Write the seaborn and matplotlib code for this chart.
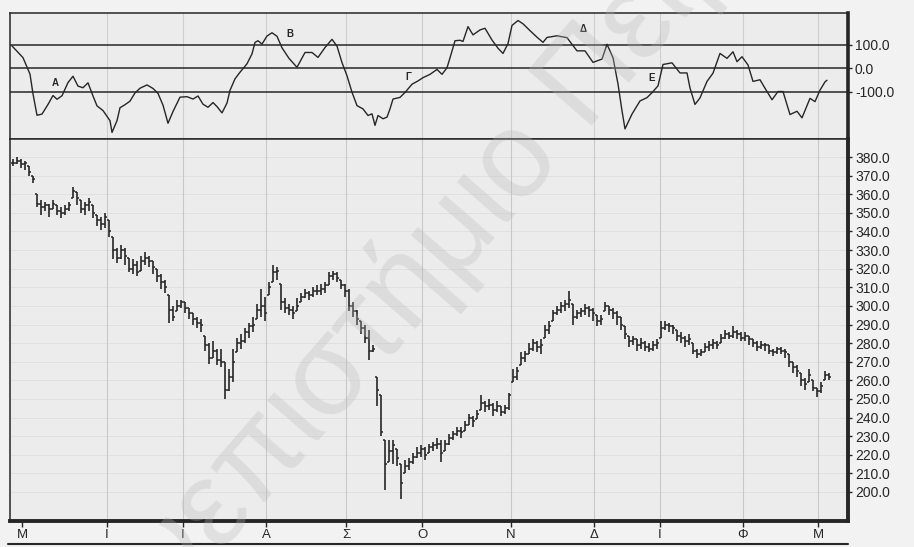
import numpy as np
import pandas as pd
import seaborn as sns
import matplotlib.pyplot as plt
from matplotlib.lines import Line2D

sns.set_style("white")
plt.rcParams['font.family'] = ['Liberation Sans', 'DejaVu Sans']

# month ticks (trading-day index) and Greek month initials
month_days = [2.25, 23.5, 42.5, 63.25, 83.25, 102.25, 124.5, 145.25, 161.75, 182.5, 201.25]
month_labels = ['Μ', 'Ι', 'Ι', 'Α', 'Σ', 'Ο', 'Ν', 'Δ', 'Ι', 'Φ', 'Μ']

# daily bars
close = [377, 378, 376, 377, 372, 368, 355, 353, 354, 352,
         355, 351, 350, 352, 354, 362, 358, 352, 354, 356,
         350, 346, 344, 348, 340, 330, 326, 330, 327, 320,
         322, 318, 324, 326, 324, 321, 316, 313, 310, 298,
         294, 300, 302, 299, 296, 293, 291, 290, 279, 272,
         276, 271, 270, 255, 262, 270, 280, 281, 286, 289,
         290, 298, 300, 296, 310, 318, 319, 302, 299, 298,
         296, 300, 305, 307, 306, 308, 308, 309, 311, 316,
         317, 315, 311, 308, 300, 297, 293, 288, 283, 276,
         277, 255, 232, 215, 222, 225, 218, 205, 214, 216,
         219, 221, 223, 220, 224, 225, 226, 221, 226, 229,
         231, 233, 232, 236, 240, 238, 242, 248, 246, 247,
         244, 246, 243, 245, 252, 262, 265, 272, 274, 277,
         280, 278, 279, 287, 289, 296, 298, 300, 301, 303,
         294, 296, 297, 299, 298, 296, 292, 293, 300, 298,
         296, 294, 290, 285, 281, 282, 279, 280, 278, 277,
         279, 280, 288, 290, 289, 288, 284, 283, 281, 282,
         276, 274, 275, 278, 279, 280, 279, 283, 285, 284,
         286, 285, 283, 284, 282, 280, 278, 279, 279, 276,
         275, 277, 276, 275, 270, 267, 265, 260, 258, 263,
         256, 254, 257, 263, 262]

high = [379, 380, 379, 378, 375, 370, 360, 357, 356, 355,
        357, 354, 353, 354, 356, 364, 361, 357, 356, 358,
        354, 349, 348, 350, 346, 337, 331, 333, 331, 326,
        325, 324, 327, 329, 327, 324, 320, 317, 314, 306,
        300, 303, 303, 302, 299, 296, 294, 293, 284, 280,
        281, 277, 277, 270, 266, 277, 283, 285, 288, 291,
        294, 301, 309, 305, 313, 322, 321, 312, 304, 301,
        300, 304, 307, 309, 308, 310, 311, 312, 313, 318,
        319, 318, 314, 312, 309, 302, 298, 292, 290, 287,
        279, 262, 252, 228, 228, 228, 223, 215, 217, 218,
        221, 224, 225, 224, 226, 227, 229, 228, 228, 231,
        233, 235, 235, 238, 242, 241, 244, 252, 249, 250,
        248, 249, 246, 247, 253, 266, 267, 275, 276, 280,
        282, 281, 282, 290, 292, 298, 300, 302, 303, 308,
        301, 298, 299, 301, 300, 299, 295, 295, 302, 300,
        299, 297, 294, 289, 284, 284, 282, 283, 281, 280,
        281, 282, 292, 292, 291, 290, 287, 286, 284, 285,
        280, 277, 277, 280, 281, 282, 281, 285, 287, 286,
        289, 287, 286, 286, 284, 282, 281, 281, 280, 279,
        277, 278, 278, 277, 274, 270, 268, 264, 261, 266,
        260, 256, 259, 265, 264]

low = [375, 376, 374, 373, 370, 366, 353, 349, 351, 348,
       352, 349, 347, 349, 351, 358, 354, 350, 349, 351,
       347, 343, 341, 342, 337, 325, 323, 325, 322, 318,
       317, 316, 319, 322, 321, 317, 313, 309, 307, 291,
       292, 297, 299, 296, 293, 290, 288, 286, 276, 269,
       272, 268, 267, 250, 254, 259, 275, 277, 280, 283,
       286, 293, 294, 292, 306, 313, 314, 298, 296, 295,
       293, 297, 302, 304, 303, 305, 306, 306, 307, 311,
       314, 313, 309, 305, 297, 294, 290, 285, 280, 271,
       275, 246, 230, 201, 216, 215, 214, 196, 210, 212,
       215, 218, 219, 217, 221, 222, 223, 216, 222, 225,
       228, 230, 229, 233, 236, 235, 239, 244, 243, 244,
       241, 243, 241, 242, 244, 259, 260, 268, 270, 274,
       276, 275, 274, 283, 285, 292, 295, 296, 297, 299,
       290, 293, 294, 295, 294, 292, 289, 290, 297, 295,
       293, 290, 287, 282, 278, 279, 276, 277, 276, 275,
       276, 277, 283, 287, 286, 285, 281, 280, 278, 279,
       274, 272, 273, 275, 276, 277, 277, 280, 282, 282,
       283, 282, 281, 281, 279, 278, 276, 277, 276, 274,
       273, 274, 274, 272, 267, 264, 262, 257, 255, 259,
       254, 251, 253, 260, 260]

# CCI oscillator
cci_day = [-0.25, 2.5, 4.25, 5, 6, 7.25, 8.75, 10, 11, 12.25,
           13.75, 15, 16.25, 17.5, 18.75, 20, 21, 22.5, 24.25, 24.75,
           26, 26.75, 28, 29.25, 30.5, 31.75, 33.5, 35, 36.25, 37.5,
           38.75, 40, 41.75, 43.5, 45, 46.25, 47.5, 48.75, 50, 51,
           52.25, 53.5, 54.25, 55.5, 56.75, 58.5, 59.75, 60.5, 61.25, 62.25,
           63.5, 64.75, 66, 67.25, 69, 71, 73, 74.75, 76.25, 78,
           79.75, 81, 82.25, 83.5, 84.75, 86, 87.5, 88.75, 89.75, 90.5,
           91.25, 92.5, 93.5, 94.25, 95, 96.75, 98, 99.75, 101.25, 102.5,
           104.25, 106, 107.25, 108.5, 109.25, 110.5, 111.75, 112.5, 113.75, 115,
           116.75, 118, 119.75, 121.25, 122.5, 123.75, 124.75, 126.25, 127.5, 129.25,
           131, 132.5, 133.5, 136, 138.5, 139.75, 141, 143, 145, 147.25,
           148.5, 150, 151.25, 152.25, 153, 154.75, 156.75, 158.5, 159.75, 161.25,
           162.5, 164.75, 166.75, 168.5, 169.25, 170.5, 171.75, 173.5, 175, 176.75,
           178.5, 180, 181, 182.25, 183.75, 185, 186.75, 188, 189.75, 191.25,
           192.5, 194.25, 196, 197.25, 199.25, 200.5, 201.75, 203, 203.5]

cci = [96, 46, -24, -108, -199, -194, -153, -115, -131, -116,
       -60, -33, -75, -82, -61, -117, -159, -179, -222, -272,
       -222, -167, -154, -139, -104, -84, -70, -85, -106, -156,
       -233, -183, -122, -120, -130, -117, -152, -165, -145, -162,
       -189, -147, -93, -44, -16, 20, 62, 111, 118, 104,
       138, 152, 137, 88, 43, 5, 68, 68, 47, 89,
       124, 95, 25, -31, -101, -158, -172, -200, -193, -242,
       -200, -214, -207, -172, -130, -123, -102, -67, -53, -39,
       -25, -4, -25, 3, 45, 118, 120, 115, 178, 143,
       164, 171, 121, 86, 64, 106, 183, 204, 190, 161,
       133, 111, 132, 139, 131, 103, 75, 75, 26, 40,
       103, 46, -66, -180, -257, -194, -138, -124, -103, -74,
       17, 24, -19, -19, -83, -153, -125, -55, -20, 64,
       43, 71, 29, 50, 15, -55, -48, -84, -133, -98,
       -98, -196, -182, -210, -127, -141, -92, -57, -50]

cci_levels = [100, 0, -100]

marks = ['Α', 'Β', 'Γ', 'Δ', 'Ε']
mark_day = [10.5, 69.25, 98.75, 142.5, 159.75]
mark_cci = [-60, 146, -35, 168, -40]

price_ticks = list(range(200, 381, 10))

ink = '#262626'
panel_bg = '#ececec'

bars = pd.DataFrame({'high': high, 'low': low, 'close': close})
bars['day'] = np.arange(len(bars))
bars['open'] = bars['close'].shift(1).fillna(bars['close'])
bars['open'] = bars['open'].clip(bars['low'], bars['high'])

osc = pd.DataFrame({'day': cci_day, 'cci': cci})

fig = plt.figure(figsize=(9.14, 5.47), dpi=100)
fig.patch.set_facecolor('#f2f2f2')

W, H = 914, 547
ax_top = fig.add_axes([10 / W, 1 - 139 / H, 838 / W, 126 / H])
ax = fig.add_axes([10 / W, 1 - 521 / H, 838 / W, 382 / H])

xlim = (-0.75, 208.75)

# --- upper panel: CCI ---
ax_top.set_facecolor(panel_bg)
for d in month_days[1:]:
    ax_top.axvline(d, color='#cfcfcf', lw=0.8, zorder=0)
for lvl in cci_levels:
    ax_top.axhline(lvl, color=ink, lw=1.1, zorder=1)
sns.lineplot(data=osc, x='day', y='cci', ax=ax_top, color=ink, lw=1.0,
             estimator=None, sort=True, zorder=3)
for t, d, v in zip(marks, mark_day, mark_cci):
    ax_top.text(d, v, t, fontsize=7, fontweight='bold', color=ink,
                ha='center', va='center')
ax_top.set_xlim(*xlim)
ax_top.set_ylim(-300, 236)
ax_top.set_xticks([])
ax_top.yaxis.tick_right()
ax_top.set_yticks(cci_levels)
ax_top.set_yticklabels([f'{v:.1f}' for v in cci_levels])
ax_top.tick_params(axis='y', right=True, length=3, width=1, pad=2,
                   labelsize=10, colors=ink)
ax_top.set_xlabel('')
ax_top.set_ylabel('')
for side in ['top', 'left', 'bottom']:
    ax_top.spines[side].set_linewidth(1.1)
    ax_top.spines[side].set_color(ink)
ax_top.spines['right'].set_linewidth(2.6)
ax_top.spines['right'].set_color(ink)

# --- lower panel: bar chart ---
ax.set_facecolor(panel_bg)
for p in price_ticks:
    ax.axhline(p, color='#e0e0e0', lw=0.7, zorder=0)
for d in month_days[1:]:
    ax.axvline(d, color='#c8c8c8', lw=0.8, zorder=0)
ax.vlines(bars['day'], bars['low'], bars['high'], color=ink, lw=1.2, zorder=3)
ax.hlines(bars['open'], bars['day'] - 0.5, bars['day'], color=ink, lw=1.1, zorder=3)
ax.hlines(bars['close'], bars['day'], bars['day'] + 0.5, color=ink, lw=1.1, zorder=3)
ax.set_xlim(*xlim)
ax.set_ylim(184.4, 389.7)
ax.yaxis.tick_right()
ax.set_yticks(price_ticks)
ax.set_yticklabels([f'{v:.1f}' for v in price_ticks])
ax.tick_params(axis='y', right=True, length=3, width=1, pad=2,
               labelsize=10, colors=ink)
ax.set_xticks(month_days)
ax.set_xticklabels(month_labels)
ax.tick_params(axis='x', bottom=True, length=4, width=1, pad=2,
               labelsize=9.5, colors=ink)
for side in ['top', 'left']:
    ax.spines[side].set_linewidth(1.1)
    ax.spines[side].set_color(ink)
for side in ['right', 'bottom']:
    ax.spines[side].set_linewidth(2.8)
    ax.spines[side].set_color(ink)

# frame line under the month labels
fig.add_artist(Line2D([8 / W, 848 / W], [1 - 544 / H, 1 - 544 / H],
                      transform=fig.transFigure, color=ink, lw=1.5))

# watermark of the scanned source
fig.text(0.055, -0.275, 'Πανεπιστήμιο Πειραιώς', rotation=49,
         rotation_mode='anchor', ha='left', va='center', fontsize=88,
         color='#b8b8b8', alpha=0.3, zorder=20)

fig.savefig('out.png', dpi=100, facecolor=fig.get_facecolor())
